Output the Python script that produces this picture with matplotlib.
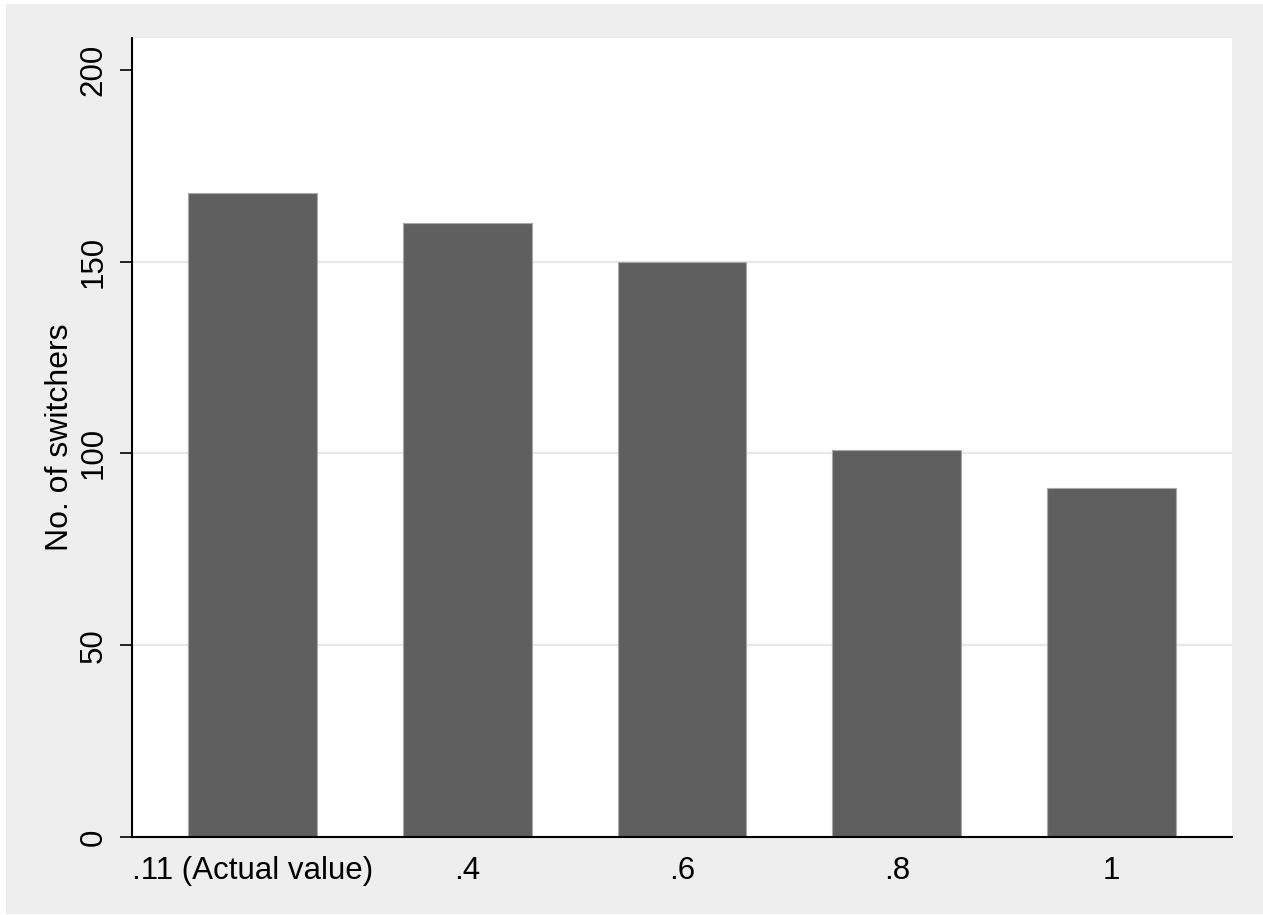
import matplotlib
matplotlib.use("Agg")
import matplotlib.pyplot as plt
from matplotlib.patches import Rectangle

# --- DATOS ---
categorias = [".11 (Actual value)", ".4", ".6", ".8", "1"]
switchers = [168, 160, 150, 101, 91]
y_ticks = [0, 50, 100, 150, 200]
grid_vals = [50, 100, 150]

plt.rcParams['font.family'] = ['Liberation Sans', 'DejaVu Sans']

W, H = 1263, 915
fig = plt.figure(figsize=(W / 100, H / 100), dpi=100, facecolor="white")

# fondo gris tipo Stata (detras de los ejes)
fondo = Rectangle((6 / W, 1 - 914 / H), 1 - 6 / W, (914 - 4) / H,
                  transform=fig.transFigure, facecolor="#eeeeee",
                  edgecolor="none", zorder=-10)
fig.add_artist(fondo)

ax = fig.add_axes([132 / W, 1 - 837 / H, 1100 / W, (837 - 38) / H])
ax.set_zorder(1)
ax.set_facecolor("white")

x = range(len(categorias))
for g in grid_vals:
    ax.axhline(g, color="#e8e8e8", lw=1.6, zorder=1)
ax.bar(x, switchers, width=0.6, color="#5f5f5f", edgecolor="#a8a8a8", linewidth=0.8, zorder=2)

ax.set_xlim(-0.56, 4.56)
ax.set_ylim(0, 208.3)
ax.set_xticks(list(x))
ax.set_xticklabels(categorias, fontsize=22.5)
ax.set_yticks(y_ticks)
ax.set_yticklabels([str(v) for v in y_ticks], fontsize=22.5, rotation=90, va="center")
ax.tick_params(axis="x", length=0, pad=14)
ax.tick_params(axis="y", length=9, width=1.2, pad=8)

ax.set_ylabel("No. of switchers", fontsize=23)
ax.yaxis.set_label_coords(-0.052, 0.5)

for s in ["top", "right"]:
    ax.spines[s].set_visible(False)
for s in ["left", "bottom"]:
    ax.spines[s].set_linewidth(1.5)
    ax.spines[s].set_color("black")

fig.savefig("out.png", dpi=100, facecolor="white")
